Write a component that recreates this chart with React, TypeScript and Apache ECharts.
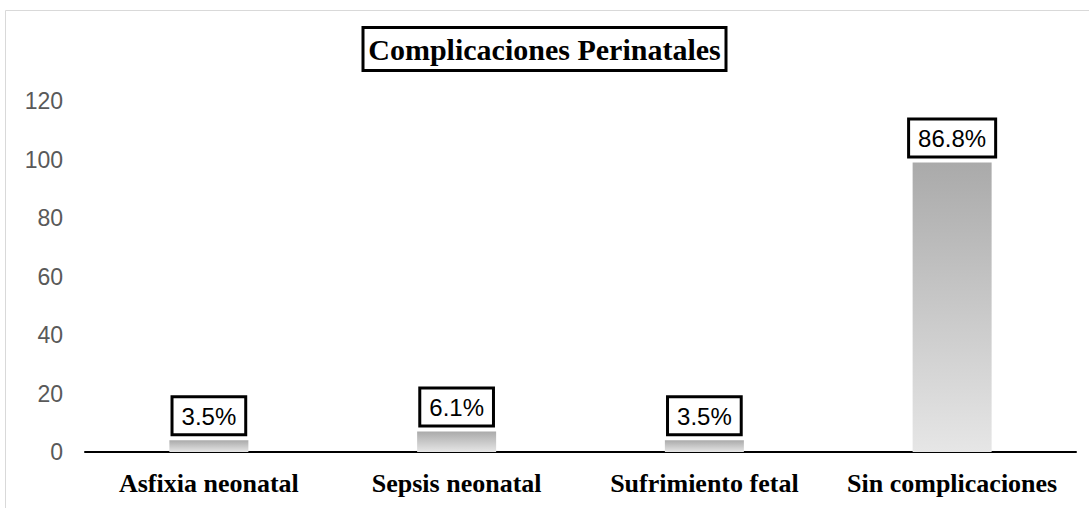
import React, { useEffect, useRef } from "react";
import * as echarts from "echarts";

const categories = ["Asfixia neonatal", "Sepsis neonatal", "Sufrimiento fetal", "Sin complicaciones"];
const counts = [4, 7, 4, 99];
const percentLabels = ["3.5%", "6.1%", "3.5%", "86.8%"];
const yTicks = [0, 20, 40, 60, 80, 100, 120];

export default function App() {
  const ref = useRef<HTMLDivElement>(null);
  useEffect(() => {
    if (!ref.current) return;
    const chart = echarts.init(ref.current, undefined, { renderer: "svg" });
    chart.setOption({
      animation: false,
      backgroundColor: "#ffffff",
      title: {
        text: "Complicaciones Perinatales",
        left: "center",
        top: 27,
        padding: [7, 6],
        borderColor: "#000",
        borderWidth: 3,
        backgroundColor: "#fff",
        textStyle: {
          fontFamily: "Liberation Serif",
          fontWeight: "bold",
          fontSize: 30,
          color: "#000",
        },
      },
      graphic: [
        {
          type: "rect",
          shape: { x: 5.5, y: 10.5, width: 1200, height: 700 },
          style: { fill: "none", stroke: "#d9d9d9", lineWidth: 1 },
          silent: true,
          z: -1,
        },
      ],
      grid: { left: 85, right: 13, top: 101, bottom: 56, containLabel: false },
      xAxis: {
        type: "category",
        data: categories,
        axisLine: { show: true, lineStyle: { color: "#000", width: 2 } },
        axisTick: { show: false },
        axisLabel: {
          interval: 0,
          hideOverlap: false,
          margin: 18,
          fontFamily: "Liberation Serif",
          fontWeight: "bold",
          fontSize: 26,
          color: "#000",
        },
      },
      yAxis: {
        type: "value",
        min: yTicks[0],
        max: yTicks[yTicks.length - 1],
        interval: 20,
        axisLine: { show: false },
        axisTick: { show: false },
        splitLine: { show: false },
        axisLabel: {
          margin: 22,
          fontFamily: "Liberation Sans",
          fontSize: 23,
          color: "#595959",
        },
      },
      series: [
        {
          type: "bar",
          data: counts,
          barWidth: 79,
          itemStyle: {
            color: new echarts.graphic.LinearGradient(0, 0, 0, 1, [
              { offset: 0, color: "#aaaaaa" },
              { offset: 1, color: "#e6e6e6" },
            ]),
          },
          label: {
            show: true,
            position: "top",
            distance: 7,
            formatter: (p: any) => percentLabels[p.dataIndex],
            fontFamily: "Liberation Sans",
            fontSize: 24,
            color: "#000",
            backgroundColor: "#fff",
            borderColor: "#000",
            borderWidth: 3,
            padding: [6, 8, 5, 8],
          },
        },
      ],
    });
    return () => chart.dispose();
  }, []);
  return (
    <div
      ref={ref}
      style={{ position: "fixed", left: 0, top: 0, width: 1089, height: 508 }}
    />
  );
}
